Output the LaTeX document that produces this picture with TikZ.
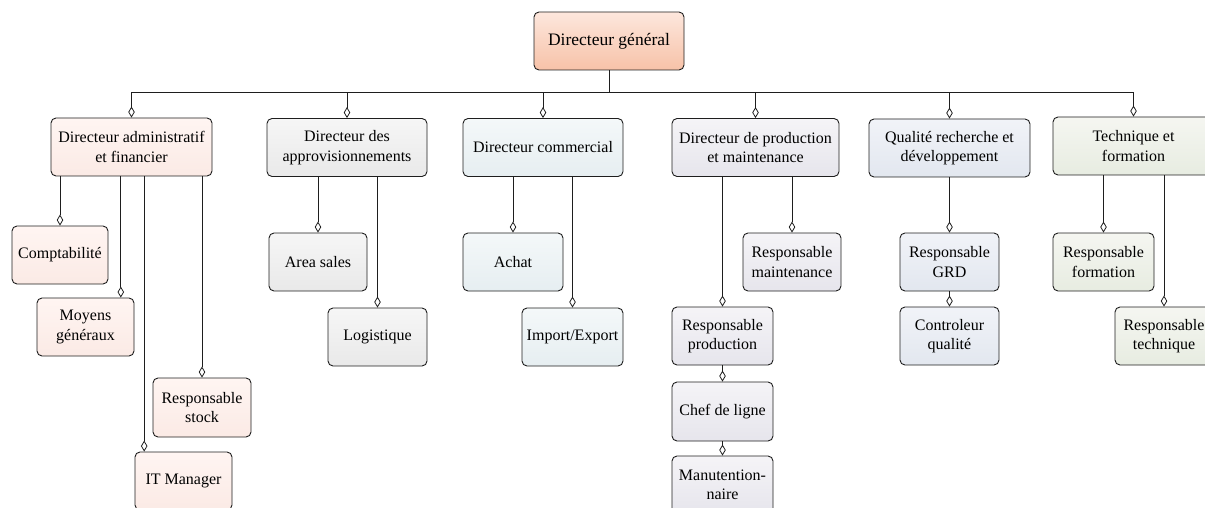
\documentclass[tikz,border=0pt]{standalone}
\usepackage{fontspec}
\setmainfont{Liberation Serif}
\usetikzlibrary{arrows.meta}

\definecolor{inkc}{HTML}{1E1E1E}
\definecolor{cTopA}{HTML}{FDE7DD}\definecolor{cTopB}{HTML}{F7C2A8}
\definecolor{cDafA}{HTML}{FFF5F2}\definecolor{cDafB}{HTML}{FBEAE5}
\definecolor{cAppA}{HTML}{F6F6F6}\definecolor{cAppB}{HTML}{E9E9E9}
\definecolor{cComA}{HTML}{F4F8F9}\definecolor{cComB}{HTML}{E6EEF1}
\definecolor{cProA}{HTML}{F5F4F7}\definecolor{cProB}{HTML}{E6E5EC}
\definecolor{cQuaA}{HTML}{F1F3F8}\definecolor{cQuaB}{HTML}{E2E7EF}
\definecolor{cTecA}{HTML}{F5F6F1}\definecolor{cTecB}{HTML}{E7ECE1}

\tikzset{
  orgbox/.style={rectangle, rounded corners=5pt, draw=inkc, line width=0.9pt,
    align=center, inner sep=0pt, minimum height=58pt, text=black,
    font=\fontsize{16}{19.5}\selectfont},
  conn/.style={draw=inkc, line width=0.8pt,
    -{Diamond[fill=white, length=11pt, width=6.5pt, line width=0.8pt]}},
  grad/.style 2 args={top color=#1, bottom color=#2},
  topc/.style={grad={cTopA}{cTopB}},
  dafc/.style={grad={cDafA}{cDafB}},
  appc/.style={grad={cAppA}{cAppB}},
  comc/.style={grad={cComA}{cComB}},
  prodc/.style={grad={cProA}{cProB}},
  qualc/.style={grad={cQuaA}{cQuaB}},
  techc/.style={grad={cTecA}{cTecB}},
}

\begin{document}
\begin{tikzpicture}[x=1pt, y=-1pt]
\useasboundingbox (0,0) rectangle (1205,508);
\clip (0,0) rectangle (1205,508);

% top of the hierarchy
\node[orgbox, topc, minimum width=150pt, font=\fontsize{17.5}{21}\selectfont] (dg) at (609,41) {Directeur général};

% department heads
\node[orgbox, dafc,  minimum width=161pt] (daf)  at (131.5,147) {Directeur administratif\\et financier};
\node[orgbox, appc,  minimum width=160pt] (app)  at (347,147.5) {Directeur des\\approvisionnements};
\node[orgbox, comc,  minimum width=160pt] (com)  at (543,147.5) {Directeur commercial};
\node[orgbox, prodc, minimum width=167pt] (prod) at (755.5,147.5) {Directeur de production\\et maintenance};
\node[orgbox, qualc, minimum width=161pt] (qual) at (949.5,148) {Qualité recherche et\\développement};
\node[orgbox, techc, minimum width=161pt] (tech) at (1133.5,146) {Technique et\\formation};

% administration and finance
\node[orgbox, dafc, minimum width=96pt] (comp)  at (60,255)    {Comptabilité};
\node[orgbox, dafc, minimum width=97pt] (moy)   at (85.5,327)  {Moyens\\généraux};
\node[orgbox, dafc, minimum width=98pt, minimum height=59pt] (stock) at (202,407.5) {Responsable\\stock};
\node[orgbox, dafc, minimum width=97pt] (itm)   at (183.5,481) {IT Manager};

% supplies
\node[orgbox, appc, minimum width=98pt] (area) at (318,262)   {Area sales};
\node[orgbox, appc, minimum width=99pt] (logi) at (377.5,337) {Logistique};

% sales
\node[orgbox, comc, minimum width=100pt] (achat) at (513,262)   {Achat};
\node[orgbox, comc, minimum width=101pt] (impex) at (572.5,337) {Import/Export};

% production and maintenance
\node[orgbox, prodc, minimum width=98pt]  (rmaint) at (792,262)     {Responsable\\maintenance};
\node[orgbox, prodc, minimum width=101pt] (rprod)  at (722.5,336)   {Responsable\\production};
\node[orgbox, prodc, minimum width=101pt, minimum height=59pt] (chef) at (722.5,411.5) {Chef de ligne};
\node[orgbox, prodc, minimum width=101pt] (manut)  at (722.5,485)   {Manutention-\\naire};

% quality, research and development
\node[orgbox, qualc, minimum width=99pt] (grd)  at (949.5,262) {Responsable\\GRD};
\node[orgbox, qualc, minimum width=99pt] (ctrl) at (949.5,336) {Controleur\\qualité};

% technique and training
\node[orgbox, techc, minimum width=101pt] (rform) at (1103.5,262) {Responsable\\formation};
\node[orgbox, techc, minimum width=98pt]  (rtech) at (1164,336)   {Responsable\\technique};

% bus from the top node to the department heads
\foreach \d in {daf,app,com,prod,qual,tech}
  \draw[conn] (dg.south) -- ++(0,22) -| (\d.north);

% department links
\draw[conn] (daf.south -| comp.north) -- (comp.north);
\draw[conn] ([xshift=35.3pt]moy.north |- daf.south) -- ([xshift=35.3pt]moy.north);
\draw[conn] (daf.south -| stock.north) -- (stock.north);
\draw[conn] ([xshift=-39.3pt]itm.north |- daf.south) -- ([xshift=-39.3pt]itm.north);

\draw[conn] (app.south -| area.north) -- (area.north);
\draw[conn] (app.south -| logi.north) -- (logi.north);

\draw[conn] (com.south -| achat.north) -- (achat.north);
\draw[conn] (com.south -| impex.north) -- (impex.north);

\draw[conn] (prod.south -| rmaint.north) -- (rmaint.north);
\draw[conn] (prod.south -| rprod.north) -- (rprod.north);
\draw[conn] (rprod.south) -- (chef.north);
\draw[conn] (chef.south) -- (manut.north);

\draw[conn] (qual.south) -- (grd.north);
\draw[conn] (grd.south) -- (ctrl.north);

\draw[conn] (tech.south -| rform.north) -- (rform.north);
\draw[conn] (tech.south -| rtech.north) -- (rtech.north);
\end{tikzpicture}
\end{document}
